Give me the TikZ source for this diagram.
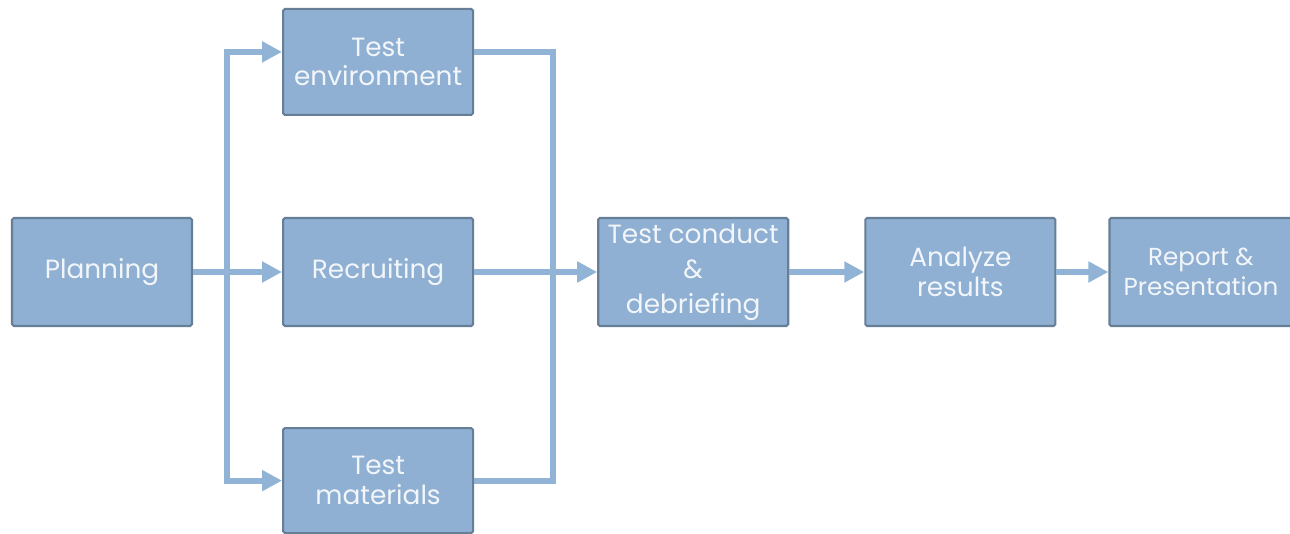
\documentclass[tikz,border=0pt]{standalone}
\usepackage{fontspec}
\setmainfont{Poppins}
\usepackage{tikz}
\usetikzlibrary{ arrows.meta, calc, positioning }
\definecolor{boxfill}{RGB}{143,176,210}
\definecolor{boxline}{RGB}{102,126,150}
\definecolor{flowline}{RGB}{145,180,214}
\definecolor{boxtext}{RGB}{242,246,250}
\tikzset{
>={Triangle[length=0.4cm,width=0.4cm]}, % arrow heads as in the slide
node distance=1.74cm, % gap between planning and the middle column
every node/.style={inner sep=1pt},
stage/.style={draw=boxline, line width=1.2pt, fill=boxfill, rounded corners=1pt,
  minimum width=3.8cm, minimum height=2.16cm, align=center,
  text=boxtext, font=\fontsize{15}{17}\selectfont},
flow/.style={color=flowline, line width=0.12cm},
}

\begin{document}
\begin{tikzpicture}
  \useasboundingbox (0,0) rectangle (25.8,10.68);% keep the slide margins
  \node[stage, minimum width=3.6cm] (plan) at (2.04,5.24) {Planning};
  \node[stage, right=1.78cm of plan] (recr) {Recruiting};
  \node[stage, minimum height=2.12cm, above=2.02cm of recr] (tenv) {Test\\environment};
  \node[stage, minimum height=2.1cm, below=2cm of recr] (tmat) {Test\\materials};
  \node[stage, right=2.46cm of recr, font=\fontsize{15}{20}\selectfont] (cond) {Test conduct\\\&\\debriefing};
  \node[stage, right=1.5cm of cond] (anal) {Analyze\\results};
  \node[stage, right=1.04cm of anal, minimum width=3.66cm,
    font=\fontsize{14}{17}\selectfont] (rep) {Report \&\\Presentation};

  \coordinate (split) at ($(plan.east)!0.38!(recr.west)$);
  \coordinate (join) at ($(recr.east)!0.64!(cond.west)$);

  % planning fans out to the three preparation steps
  \draw[flow, ->] (plan) -- (recr);
  \draw[flow, ->] (split) |- ([yshift=0.2cm]tenv.west);
  \draw[flow, ->] (split) |- (tmat.west);
  % preparation joins into the test itself
  \draw[flow] ([yshift=0.2cm]tenv.east) -| (join) |- (tmat.east);
  \draw[flow, ->] (recr) -- (cond);
  \draw[flow, ->] (cond) -- (anal);
  \draw[flow, ->] (anal) -- (rep);
\end{tikzpicture}
\end{document}
